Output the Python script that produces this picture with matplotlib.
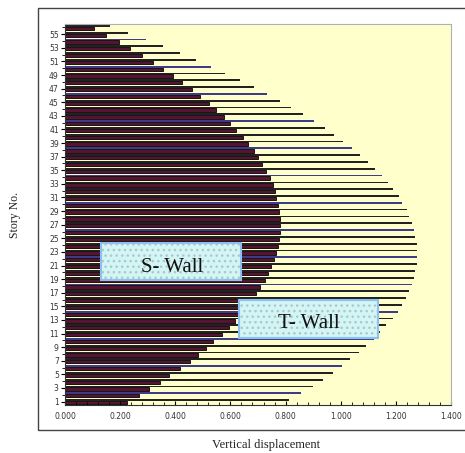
import matplotlib
matplotlib.use("Agg")
import matplotlib.pyplot as plt
from matplotlib.patches import Rectangle
import numpy as np

# story numbers 1..56
stories = list(range(1, 57))

# S-Wall vertical displacement (thick bars), story 1 -> 56
s_wall = [0.224, 0.267, 0.306, 0.343, 0.379, 0.416, 0.452, 0.481, 0.513, 0.537,
          0.570, 0.594, 0.618, 0.638, 0.657, 0.675, 0.692, 0.709, 0.725, 0.737,
          0.748, 0.758, 0.766, 0.772, 0.777, 0.779, 0.779, 0.779, 0.776, 0.772,
          0.767, 0.760, 0.753, 0.743, 0.730, 0.716, 0.701, 0.685, 0.665, 0.646,
          0.622, 0.600, 0.578, 0.549, 0.522, 0.491, 0.462, 0.425, 0.393, 0.354,
          0.319, 0.279, 0.236, 0.195, 0.149, 0.105]

# T-Wall vertical displacement (thin bars), story 1 -> 56
t_wall = [0.812, 0.857, 0.899, 0.935, 0.971, 1.006, 1.034, 1.067, 1.092, 1.119,
          1.143, 1.166, 1.188, 1.206, 1.222, 1.235, 1.248, 1.258, 1.264, 1.270,
          1.276, 1.276, 1.276, 1.276, 1.270, 1.267, 1.258, 1.248, 1.239, 1.223,
          1.210, 1.190, 1.171, 1.149, 1.126, 1.099, 1.070, 1.042, 1.010, 0.977,
          0.942, 0.903, 0.863, 0.821, 0.779, 0.731, 0.685, 0.633, 0.582, 0.530,
          0.474, 0.416, 0.355, 0.293, 0.230, 0.164]

y = np.array(stories, dtype=float)
t_colors = ["#3c3c88" if s % 4 == 2 else "#222222" for s in stories]

fig = plt.figure(figsize=(4.65, 4.53), dpi=100)
ax = fig.add_axes([65 / 465, 1 - 405 / 453, 386 / 465, 381 / 453])
ax.set_facecolor("#ffffcc")

ax.barh(y + 0.22, t_wall, height=0.26, color=t_colors, linewidth=0)
ax.barh(y - 0.15, s_wall, height=0.48, color="#561333", edgecolor="black", linewidth=0.6)

ax.set_xlim(0, 1.4)
ax.set_ylim(0.5, 56.5)
ax.set_xticks(np.arange(0, 1.401, 0.2))
ax.set_xticklabels([f"{v:.3f}" for v in np.arange(0, 1.401, 0.2)])
ax.set_xticks(np.arange(0, 1.401, 0.04), minor=True)
ax.set_yticks(stories[::2])
ax.set_yticks(stories[1::2], minor=True)
ax.tick_params(axis="x", which="both", direction="in", labelsize=5.5, labelcolor="#333333", pad=5)
ax.tick_params(axis="x", which="major", length=3)
ax.tick_params(axis="x", which="minor", length=2)
ax.tick_params(axis="y", which="both", direction="out", labelsize=5.5, labelcolor="#333333", pad=1.5)
ax.tick_params(axis="y", which="major", length=3)
ax.tick_params(axis="y", which="minor", length=2)

for side in ["top", "right"]:
    ax.spines[side].set_color("#b0b0b0")
for side in ["left", "bottom"]:
    ax.spines[side].set_color("#333333")
    ax.spines[side].set_linewidth(0.8)

# text boxes
for (x0, y0, w, h), label, (tx, ty) in [
    ((0.093, 0.328, 0.363, 0.097), "S- Wall", (0.277, 0.362)),
    ((0.451, 0.176, 0.360, 0.100), "T- Wall", (0.631, 0.215)),
]:
    ax.add_patch(Rectangle((x0, y0), w, h, transform=ax.transAxes, facecolor="#d2f5f5",
                           edgecolor="#b4c4c8", hatch="...", linewidth=0, zorder=4))
    ax.add_patch(Rectangle((x0, y0), w, h, transform=ax.transAxes, facecolor="none",
                           edgecolor="#8cc0f0", linewidth=1.5, zorder=5))
    ax.text(tx, ty, label, transform=ax.transAxes, ha="center", va="center",
            fontsize=15, family="Liberation Serif", color="#111111", zorder=6)

# outer chart frame
fig.patches.append(Rectangle((38 / 465, 1 - 430 / 453), 1.0, 422 / 453, transform=fig.transFigure,
                             facecolor="none", edgecolor="#444444", linewidth=1.0))

fig.text(15 / 465, 1 - 215 / 453, "Story No.", rotation=90, ha="center", va="center",
         fontsize=8.5, family="Liberation Serif", color="#222222")
fig.text(266 / 465, 1 - 445 / 453, "Vertical displacement", ha="center", va="center",
         fontsize=9, family="Liberation Serif", color="#222222")

fig.savefig("out.png", dpi=100)
